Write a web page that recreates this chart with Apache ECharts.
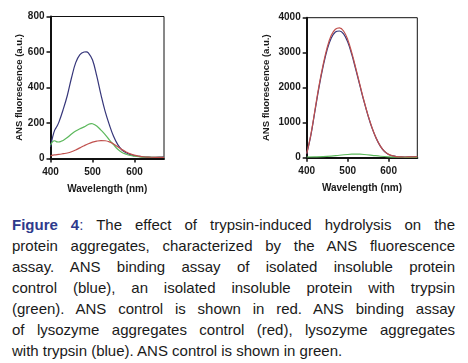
<!DOCTYPE html>
<html>
<head>
<meta charset="utf-8">
<script src="https://cdn.jsdelivr.net/npm/echarts@6/dist/echarts.min.js"></script>
<style>
html,body{margin:0;padding:0;background:#fff;}
#chart{position:absolute;left:0;top:0;width:468px;height:200px;}
#cap{position:absolute;left:12px;top:214px;width:443px;font-family:"Liberation Sans",Arial,sans-serif;font-size:15px;line-height:21px;color:#1a1a1a;}
#cap div{white-space:nowrap;text-align:justify;text-align-last:justify;}
#cap div.last{text-align:left;text-align-last:left;}
#cap .fig{color:#2e3a8c;font-weight:bold;}
#cap .col{color:#2e3a8c;}
</style>
</head>
<body>
<div id="chart"></div>
<div id="cap">
<div><span class="fig">Figure 4</span><span class="col">:</span> The effect of trypsin-induced hydrolysis on the</div>
<div>protein aggregates, characterized by the ANS fluorescence</div>
<div>assay. ANS binding assay of isolated insoluble protein</div>
<div>control (blue), an isolated insoluble protein with trypsin</div>
<div>(green). ANS control is shown in red. ANS binding assay</div>
<div>of lysozyme aggregates control (red), lysozyme aggregates</div>
<div class="last">with trypsin (blue). ANS control is shown in green.</div>
</div>
<script>
// Left panel: insoluble protein
const leftBlueWl = [400,405,410,415,420,430,440,450,460,470,480,485,490,500,510,520,530,540,550,560,570,580,590,600,610,620,630,640,650,660,670];
const leftBlue   = [65,120,160,180,205,275,355,455,540,585,600,601,595,555,465,360,265,190,125,78,48,32,22,16,12,9,8,7,7,8,10];
const leftGreenWl = [400,405,410,415,420,425,430,440,450,460,470,480,490,497,500,510,520,530,540,550,560,570,580,590,600,610,620,640,670];
const leftGreen   = [75,95,100,94,93,97,102,118,138,155,168,178,192,197,196,183,160,135,105,78,52,34,24,17,13,10,8,7,6];
const leftRedWl = [400,410,420,430,440,450,460,470,480,490,500,510,520,530,540,550,560,570,580,590,600,610,620,630,640,670];
const leftRed   = [15,20,23,27,31,38,48,60,72,83,92,98,101,100,94,82,66,50,37,26,19,13,10,8,7,6];
// Right panel: lysozyme aggregates
const rightWl = [400,410,420,430,440,450,460,470,480,490,500,510,520,530,540,550,560,570,580,590,600,610,620,630,640,650,660,670];
const rightRed  = [120,650,1350,2050,2650,3150,3500,3670,3710,3620,3380,3000,2550,2080,1620,1200,840,550,330,180,95,50,30,22,20,22,25,28];
const rightBlue = [110,630,1320,2010,2600,3090,3420,3590,3620,3540,3310,2950,2510,2050,1600,1190,830,545,325,178,93,50,30,22,20,21,24,27];
const rightGreenWl = [400,420,440,460,480,500,510,520,530,540,560,580,600,620,640,670];
const rightGreen   = [20,22,28,45,70,92,100,103,100,92,68,42,25,15,12,10];
const xTicks = [400,500,600];
const leftYTicks = [0,200,400,600,800];
const rightYTicks = [0,1000,2000,3000,4000];

const BLUE='#36367a', GREEN='#5cb85c', RED='#c0504d';
const font = {fontFamily:'"Liberation Sans",Arial,sans-serif', fontWeight:'bold', color:'#1a1a1a'};
function pairs(xs, ys){ return xs.map((x,i)=>[x,ys[i]]); }
function xAxis(gi){
  return {type:'value', gridIndex:gi, min:400, max:670, interval:100,
    name:'Wavelength (nm)', nameLocation:'middle', nameGap:26,
    nameTextStyle:Object.assign({fontSize:10},font),
    axisLine:{show:true, lineStyle:{color:'#111', width:2}},
    axisTick:{show:true, inside:false, length:4, lineStyle:{color:'#111', width:1.5}},
    axisLabel:Object.assign({fontSize:10, margin:9, showMaxLabel:false, formatter:v=>String(v)}, font),
    splitLine:{show:false}};
}
function yAxis(gi, max, interval, gap){
  return {type:'value', gridIndex:gi, min:0, max:max, interval:interval,
    name:'ANS fluorescence (a.u.)', nameLocation:'middle', nameGap:gap, nameRotate:90,
    nameTextStyle:Object.assign({fontSize:9.5},font),
    axisLine:{show:true, lineStyle:{color:'#111', width:2}},
    axisTick:{show:true, inside:false, length:4, lineStyle:{color:'#111', width:1.5}},
    axisLabel:Object.assign({fontSize:10, margin:6, formatter:v=>String(v)}, font),
    splitLine:{show:false}};
}
function line(name, data, color, xi, z){
  return {name, type:'line', xAxisIndex:xi, yAxisIndex:xi, data, smooth:0.4, symbol:'none',
    lineStyle:{color, width:1.2}, itemStyle:{color}, z:z};
}
const chart = echarts.init(document.getElementById('chart'), null, {renderer:'canvas'});
chart.setOption({
  animation:false,
  backgroundColor:'#fff',
  grid:[
    {left:50.5, top:16.5, width:113.5, height:142, show:true, borderColor:'#111', borderWidth:1, backgroundColor:'transparent'},
    {left:306.7, top:17.7, width:110.6, height:140, show:true, borderColor:'#111', borderWidth:1, backgroundColor:'transparent'}
  ],
  xAxis:[xAxis(0), xAxis(1)],
  yAxis:[yAxis(0,800,200,25), yAxis(1,4000,1000,35)],
  series:[
    line('Insoluble protein control', pairs(leftBlueWl,leftBlue), BLUE, 0, 3),
    line('Insoluble protein + trypsin', pairs(leftGreenWl,leftGreen), GREEN, 0, 3),
    line('ANS control', pairs(leftRedWl,leftRed), RED, 0, 3),
    line('Lysozyme aggregates + trypsin', pairs(rightWl,rightBlue), BLUE, 1, 3),
    line('Lysozyme aggregates control', pairs(rightWl,rightRed), RED, 1, 4),
    line('ANS control', pairs(rightGreenWl,rightGreen), GREEN, 1, 3)
  ]
});
</script>
</body>
</html>
